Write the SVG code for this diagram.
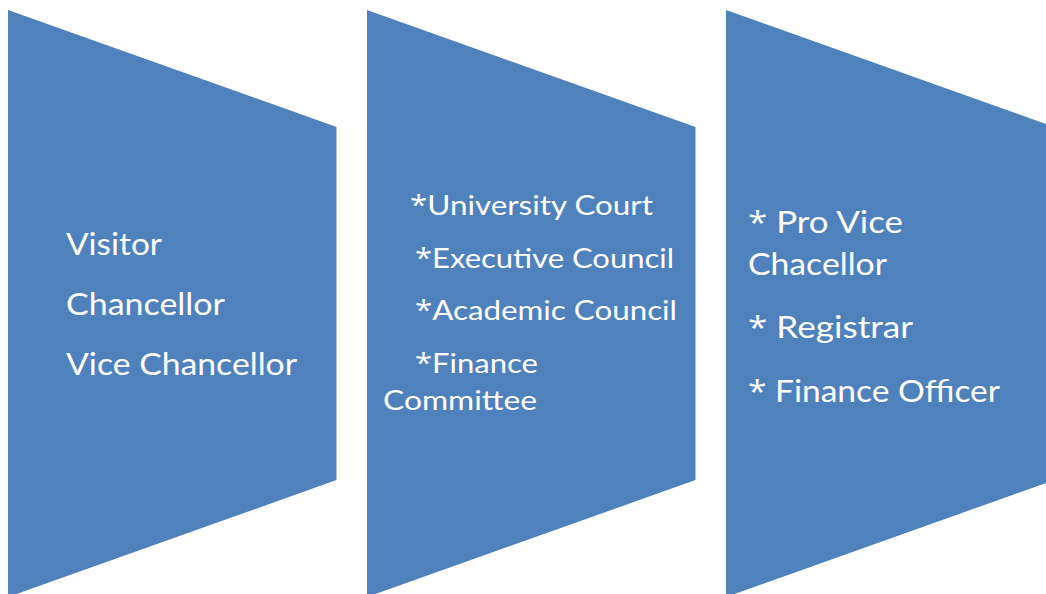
<svg xmlns="http://www.w3.org/2000/svg" width="1046" height="594" viewBox="0 0 1046 594">
<style>
.shape{fill:#4F81BD}
.t{fill:#ffffff;font-family:Lato,"Open Sans","Liberation Sans",sans-serif}
.big{font-size:31px}
.mid{font-size:27px}
.ast{font-family:"Open Sans",Lato,sans-serif}
</style>
<rect width="1046" height="594" fill="#ffffff"/>
<g id="node1">
<polygon class="shape" points="8,10 336.5,127 336.5,480 8,597"/>
<text class="t big" x="66" y="255" textLength="96" lengthAdjust="spacingAndGlyphs">Visitor</text>
<text class="t big" x="66" y="315" textLength="159" lengthAdjust="spacingAndGlyphs">Chancellor</text>
<text class="t big" x="66" y="375" textLength="231" lengthAdjust="spacingAndGlyphs">Vice Chancellor</text>
</g>
<g id="node2">
<polygon class="shape" points="367,10 695.5,127 695.5,480 367,597"/>
<text class="t mid" x="410" y="215" textLength="243" lengthAdjust="spacingAndGlyphs"><tspan class="ast">*</tspan>University Court</text>
<text class="t mid" x="415" y="268" textLength="259" lengthAdjust="spacingAndGlyphs"><tspan class="ast">*</tspan>Executive Council</text>
<text class="t mid" x="415" y="320" textLength="262" lengthAdjust="spacingAndGlyphs"><tspan class="ast">*</tspan>Academic Council</text>
<text class="t mid" x="415" y="373" textLength="123" lengthAdjust="spacingAndGlyphs"><tspan class="ast">*</tspan>Finance</text>
<text class="t mid" x="383" y="410" textLength="154" lengthAdjust="spacingAndGlyphs">Committee</text>
</g>
<g id="node3">
<polygon class="shape" points="726,10 1054.5,127 1054.5,480 726,597"/>
<text class="t big" x="748" y="233" textLength="155" lengthAdjust="spacingAndGlyphs"><tspan class="ast">*</tspan>  Pro Vice</text>
<text class="t big" x="748" y="275" textLength="139" lengthAdjust="spacingAndGlyphs">Chacellor</text>
<text class="t big" x="748" y="338" textLength="165" lengthAdjust="spacingAndGlyphs"><tspan class="ast">*</tspan>  Registrar</text>
<text class="t big" x="748" y="402" textLength="252" lengthAdjust="spacingAndGlyphs"><tspan class="ast">*</tspan> Finance Officer</text>
</g>
<g id="connectors"></g>
</svg>
